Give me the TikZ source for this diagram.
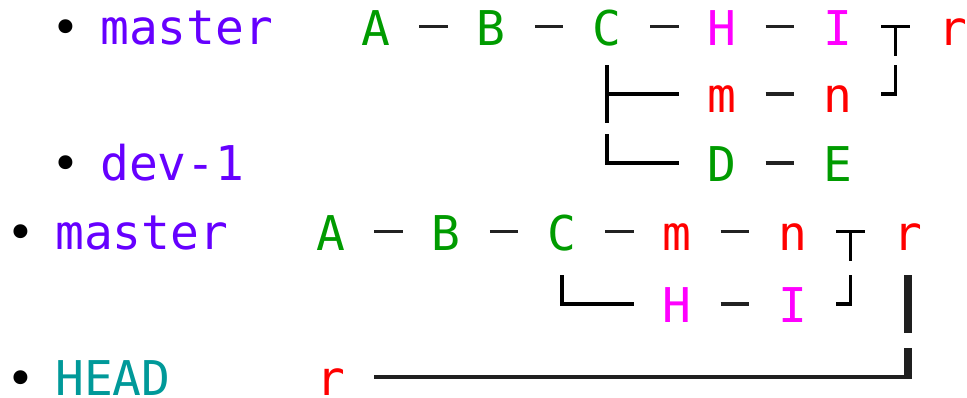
\documentclass[tikz,border=0pt]{standalone}
\usepackage{fontspec}
\usetikzlibrary{calc}
\newfontfamily\gitmono{DejaVu Sans Mono}
\definecolor{branchpurple}{RGB}{102,0,255}
\definecolor{commitgreen}{RGB}{0,155,0}
\definecolor{commitpink}{RGB}{255,0,255}
\definecolor{commitred}{RGB}{255,0,0}
\definecolor{headteal}{RGB}{0,153,153}
\definecolor{linkgray}{RGB}{34,34,34}

\begin{document}
\begin{tikzpicture}[x=1pt,y=-1pt,
  every node/.style={font=\gitmono\fontsize{47.9}{50}\selectfont, inner sep=0pt},
  % one character cell of the commit grid, centred on the row's line height
  commit/.style={text height=37pt, text depth=0pt,
                 minimum width=28.85pt, minimum height=57.4pt},
  branchname/.style={anchor=base west},
  listdot/.style={anchor=base},
  link/.style={draw=linkgray, line width=3.6pt},
  tree/.style={draw=black, line width=3.6pt, line join=miter},
  heavytree/.style={draw=black!88, line width=8pt},
  heavyrun/.style={draw=black!88, line width=4.5pt},
]
\useasboundingbox (0,0) rectangle (967,398);

% ---------- before the rebase ----------
\node[listdot] (b1) at (66,45) {•};
\node[branchname, text=branchpurple] (master1) at (100,45) {master};
\node[listdot] (b2) at (66,181) {•};
\node[branchname, text=branchpurple] (dev1) at (100,181) {dev-1};

\node[commit, text=commitgreen] (A) at (376,26.7) {A};
\node[commit, text=commitgreen] (B) at (491.4,26.7) {B};
\node[commit, text=commitgreen] (C) at (606.8,26.7) {C};
\node[commit, text=commitpink]  (H) at (722.2,26.7) {H};
\node[commit, text=commitpink]  (I) at (837.6,26.7) {I};
\node[commit, text=commitred]   (r) at (953,26.7) {r};

\node[commit, text=commitred]   (m) at (722.2,94.3) {m};
\node[commit, text=commitred]   (n) at (837.6,94.3) {n};

\node[commit, text=commitgreen] (D) at (722.2,163) {D};
\node[commit, text=commitgreen] (E) at (837.6,163) {E};

\foreach \p/\q in {A/B, B/C, C/H, H/I, m/n, D/E}
  \draw[link] ([xshift=28.85pt]\p.east) -- ([xshift=-28.85pt]\q.west);

% merge r of I and n
\coordinate (j1) at ($(I.east)!0.5!(r.west)$);
\coordinate (j2) at (j1 |- n);
\draw[tree] ([xshift=28.85pt]I.east) -- ([xshift=-28.85pt]r.west);
\draw[tree] (j1) -- (j1 |- r.south);
\draw[tree] (j2 |- n.north) -- (j2) -- ([xshift=28.85pt]n.east);

% branches leaving C
\draw[tree] (C.center |- m.north) -- (C.center |- m.south);
\draw[tree] (C.center |- m) -- ([xshift=-28.85pt]m.west);
\draw[tree] (C.center |- D.north) -- (C.center |- D) -- ([xshift=-28.85pt]D.west);

% ---------- after the rebase ----------
\node[listdot] (b3) at (21,250) {•};
\node[branchname, text=branchpurple] (master2) at (55,250) {master};
\node[listdot] (b4) at (21,395.5) {•};
\node[branchname, text=headteal] (head) at (55,395.5) {HEAD};

\node[commit, text=commitgreen] (A2) at (331,231.7) {A};
\node[commit, text=commitgreen] (B2) at (446.4,231.7) {B};
\node[commit, text=commitgreen] (C2) at (561.8,231.7) {C};
\node[commit, text=commitred]   (m2) at (677.2,231.7) {m};
\node[commit, text=commitred]   (n2) at (792.6,231.7) {n};
\node[commit, text=commitred]   (r2) at (908,231.7) {r};

\node[commit, text=commitpink]  (H2) at (677.2,304) {H};
\node[commit, text=commitpink]  (I2) at (792.6,304) {I};

\node[commit, text=commitred]   (rH) at (331,377) {r};

\foreach \p/\q in {A2/B2, B2/C2, C2/m2, m2/n2, H2/I2}
  \draw[link] ([xshift=28.85pt]\p.east) -- ([xshift=-28.85pt]\q.west);

% merge r of n and I
\coordinate (j3) at ($(n2.east)!0.5!(r2.west)$);
\coordinate (j4) at (j3 |- I2);
\draw[tree] ([xshift=28.85pt]n2.east) -- ([xshift=-28.85pt]r2.west);
\draw[tree] (j3) -- (j3 |- r2.south);
\draw[tree] (j4 |- I2.north) -- (j4) -- ([xshift=28.85pt]I2.east);

% side branch leaving C
\draw[tree] (C2.center |- H2.north) -- (C2.center |- H2) -- ([xshift=-28.85pt]H2.west);

% HEAD points at r
\coordinate (k) at (r2 |- rH);
\draw[heavytree] (r2.center |- H2.north) -- (r2.center |- H2.south);
\draw[heavytree] (r2.center |- rH.north) -- ([yshift=-2.25pt]k);
\draw[heavyrun] ([xshift=28.85pt]rH.east) -- ([xshift=4pt]k);
\end{tikzpicture}
\end{document}
